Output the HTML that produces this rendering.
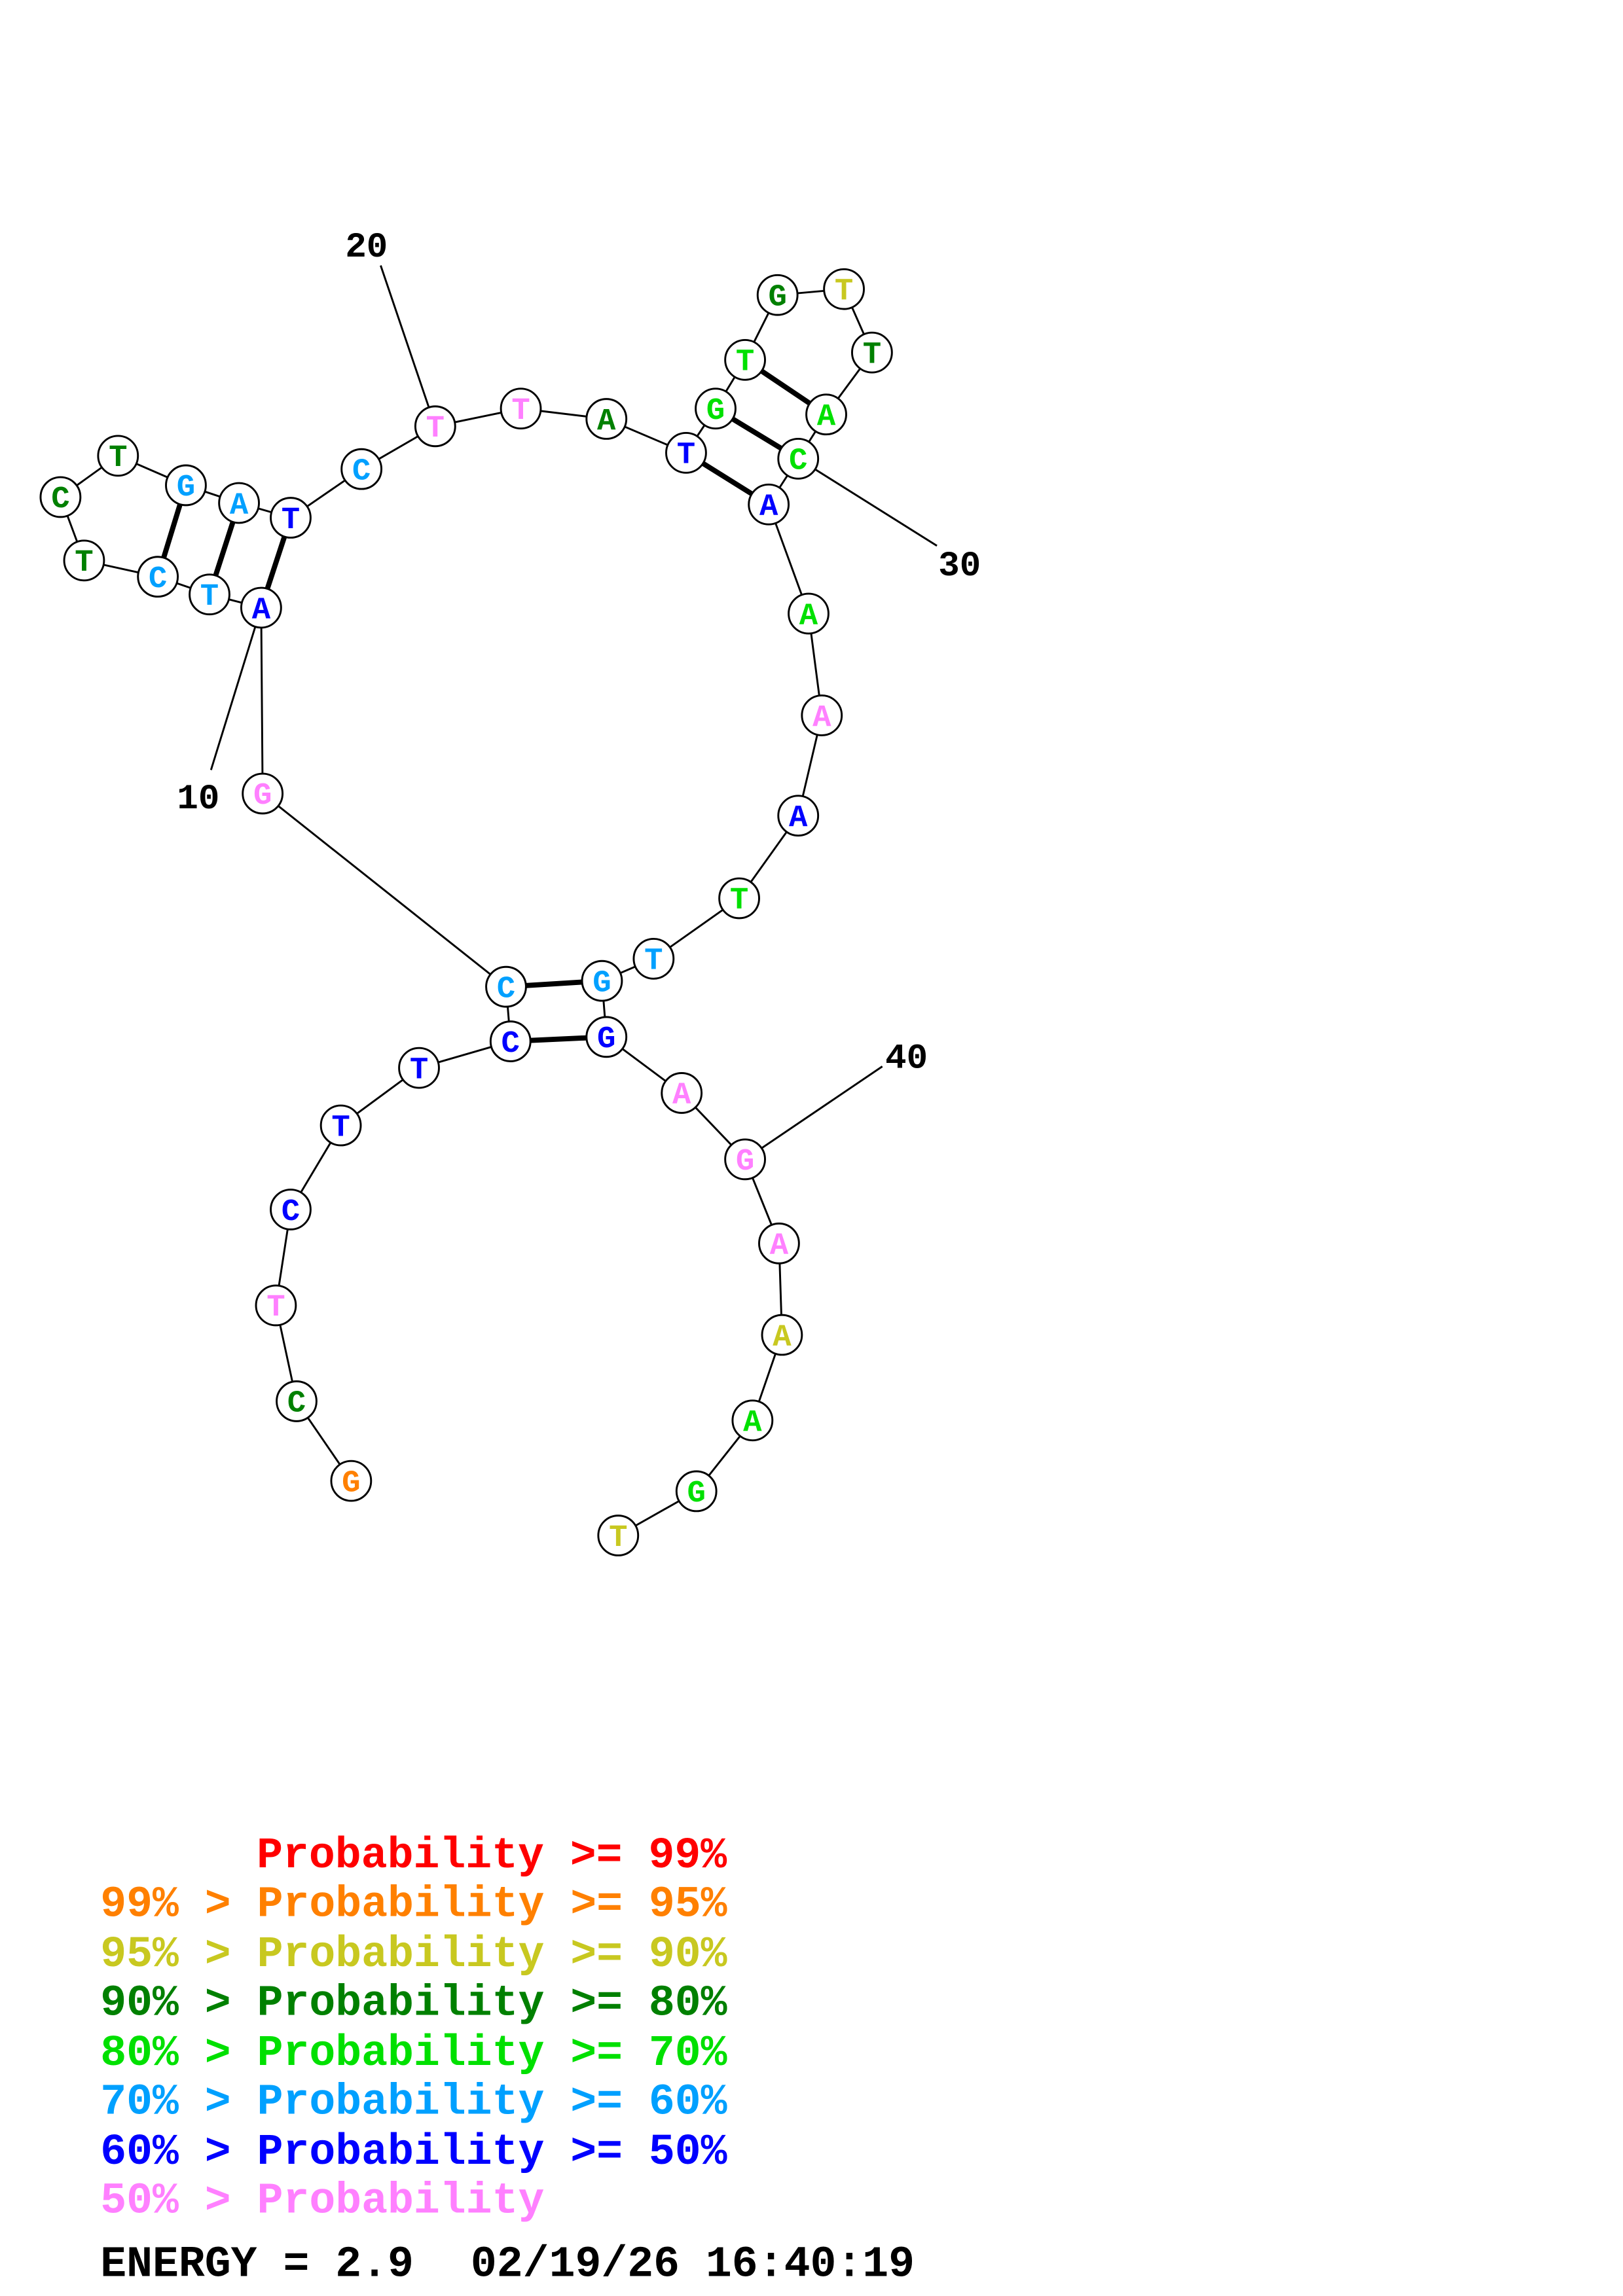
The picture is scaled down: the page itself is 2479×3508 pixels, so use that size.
<!DOCTYPE html>
<html><head><meta charset="utf-8"><style>html,body{margin:0;padding:0;background:#fff}svg{display:block}</style></head>
<body>
<svg xmlns="http://www.w3.org/2000/svg" width="2479" height="3508" viewBox="0 0 1100 1556.6">
<rect width="1100" height="1557" fill="#fff"/>
<g stroke="#000" stroke-width="1.3" fill="none">
<polyline points="238,1004 201,950 187,885 197,820 231,763 284,724 346,706 343,669 178,538 177,412 142,403 107,391 57,380 41,337 80,309 126,329 162,341 197,351 245,318 295,289 353,277 411,284 465,307 485,277 505,244 527,200 572,196 591,239 560,281 541,311 521,342 548,416 557,485 541,553 501,609 443,650 408,665 411,703 462,741 505,786 528,843 530,905 510,963 472,1011 419,1041"/>
<line x1="143" y1="522" x2="177" y2="412"/>
<line x1="258" y1="180" x2="295" y2="289"/>
<line x1="635" y1="370" x2="541" y2="311"/>
<line x1="598" y1="723" x2="505" y2="786"/>
</g>
<g stroke="#000" stroke-width="3.5">
<line x1="346" y1="706" x2="411" y2="703"/>
<line x1="343" y1="669" x2="408" y2="665"/>
<line x1="177" y1="412" x2="197" y2="351"/>
<line x1="142" y1="403" x2="162" y2="341"/>
<line x1="107" y1="391" x2="126" y2="329"/>
<line x1="465" y1="307" x2="521" y2="342"/>
<line x1="485" y1="277" x2="541" y2="311"/>
<line x1="505" y1="244" x2="560" y2="281"/>
</g>
<g font-family="Liberation Mono, monospace" font-weight="bold" font-size="21" text-anchor="middle" stroke="none">
<g fill="#fff" stroke="#000" stroke-width="1.3">
<circle cx="238" cy="1004" r="13.5"/><circle cx="201" cy="950" r="13.5"/><circle cx="187" cy="885" r="13.5"/><circle cx="197" cy="820" r="13.5"/><circle cx="231" cy="763" r="13.5"/><circle cx="284" cy="724" r="13.5"/><circle cx="346" cy="706" r="13.5"/><circle cx="343" cy="669" r="13.5"/><circle cx="178" cy="538" r="13.5"/><circle cx="177" cy="412" r="13.5"/><circle cx="142" cy="403" r="13.5"/><circle cx="107" cy="391" r="13.5"/><circle cx="57" cy="380" r="13.5"/><circle cx="41" cy="337" r="13.5"/><circle cx="80" cy="309" r="13.5"/><circle cx="126" cy="329" r="13.5"/><circle cx="162" cy="341" r="13.5"/><circle cx="197" cy="351" r="13.5"/><circle cx="245" cy="318" r="13.5"/><circle cx="295" cy="289" r="13.5"/><circle cx="353" cy="277" r="13.5"/><circle cx="411" cy="284" r="13.5"/><circle cx="465" cy="307" r="13.5"/><circle cx="485" cy="277" r="13.5"/><circle cx="505" cy="244" r="13.5"/><circle cx="527" cy="200" r="13.5"/><circle cx="572" cy="196" r="13.5"/><circle cx="591" cy="239" r="13.5"/><circle cx="560" cy="281" r="13.5"/><circle cx="541" cy="311" r="13.5"/><circle cx="521" cy="342" r="13.5"/><circle cx="548" cy="416" r="13.5"/><circle cx="557" cy="485" r="13.5"/><circle cx="541" cy="553" r="13.5"/><circle cx="501" cy="609" r="13.5"/><circle cx="443" cy="650" r="13.5"/><circle cx="408" cy="665" r="13.5"/><circle cx="411" cy="703" r="13.5"/><circle cx="462" cy="741" r="13.5"/><circle cx="505" cy="786" r="13.5"/><circle cx="528" cy="843" r="13.5"/><circle cx="530" cy="905" r="13.5"/><circle cx="510" cy="963" r="13.5"/><circle cx="472" cy="1011" r="13.5"/><circle cx="419" cy="1041" r="13.5"/>
</g>
<text x="238" y="1011" fill="#ff8000">G</text>
<text x="201" y="957" fill="#008000">C</text>
<text x="187" y="892" fill="#ff80ff">T</text>
<text x="197" y="827" fill="#0000ff">C</text>
<text x="231" y="770" fill="#0000ff">T</text>
<text x="284" y="731" fill="#0000ff">T</text>
<text x="346" y="713" fill="#0000ff">C</text>
<text x="343" y="676" fill="#00a0ff">C</text>
<text x="178" y="545" fill="#ff80ff">G</text>
<text x="177" y="419" fill="#0000ff">A</text>
<text x="142" y="410" fill="#00a0ff">T</text>
<text x="107" y="398" fill="#00a0ff">C</text>
<text x="57" y="387" fill="#008000">T</text>
<text x="41" y="344" fill="#008000">C</text>
<text x="80" y="316" fill="#008000">T</text>
<text x="126" y="336" fill="#00a0ff">G</text>
<text x="162" y="348" fill="#00a0ff">A</text>
<text x="197" y="358" fill="#0000ff">T</text>
<text x="245" y="325" fill="#00a0ff">C</text>
<text x="295" y="296" fill="#ff80ff">T</text>
<text x="353" y="284" fill="#ff80ff">T</text>
<text x="411" y="291" fill="#008000">A</text>
<text x="465" y="314" fill="#0000ff">T</text>
<text x="485" y="284" fill="#00e000">G</text>
<text x="505" y="251" fill="#00e000">T</text>
<text x="527" y="207" fill="#008000">G</text>
<text x="572" y="203" fill="#c8c820">T</text>
<text x="591" y="246" fill="#008000">T</text>
<text x="560" y="288" fill="#00e000">A</text>
<text x="541" y="318" fill="#00e000">C</text>
<text x="521" y="349" fill="#0000ff">A</text>
<text x="548" y="423" fill="#00e000">A</text>
<text x="557" y="492" fill="#ff80ff">A</text>
<text x="541" y="560" fill="#0000ff">A</text>
<text x="501" y="616" fill="#00e000">T</text>
<text x="443" y="657" fill="#00a0ff">T</text>
<text x="408" y="672" fill="#00a0ff">G</text>
<text x="411" y="710" fill="#0000ff">G</text>
<text x="462" y="748" fill="#ff80ff">A</text>
<text x="505" y="793" fill="#ff80ff">G</text>
<text x="528" y="850" fill="#ff80ff">A</text>
<text x="530" y="912" fill="#c8c820">A</text>
<text x="510" y="970" fill="#00e000">A</text>
<text x="472" y="1018" fill="#00e000">G</text>
<text x="419" y="1048" fill="#c8c820">T</text>
</g>
<g font-family="Liberation Mono, monospace" font-weight="bold" font-size="24" fill="#000">
<text x="120" y="548">10</text>
<text x="234" y="174">20</text>
<text x="636" y="390">30</text>
<text x="600" y="724">40</text>
</g>
<g font-family="Liberation Mono, monospace" font-weight="bold" font-size="29.5">
<text x="174" y="1266" fill="#ff0000">Probability &gt;= 99%</text>
<text x="68" y="1299" fill="#ff8000">99% &gt; Probability &gt;= 95%</text>
<text x="68" y="1333" fill="#c8c820">95% &gt; Probability &gt;= 90%</text>
<text x="68" y="1366" fill="#008000">90% &gt; Probability &gt;= 80%</text>
<text x="68" y="1400" fill="#00e000">80% &gt; Probability &gt;= 70%</text>
<text x="68" y="1433" fill="#00a0ff">70% &gt; Probability &gt;= 60%</text>
<text x="68" y="1467" fill="#0000ff">60% &gt; Probability &gt;= 50%</text>
<text x="68" y="1500" fill="#ff80ff">50% &gt; Probability</text>
<text x="68" y="1543" fill="#000">ENERGY = 2.9</text>
<text x="319" y="1543" fill="#000">02/19/26 16:40:19</text>
</g>
</svg>
</body></html>
